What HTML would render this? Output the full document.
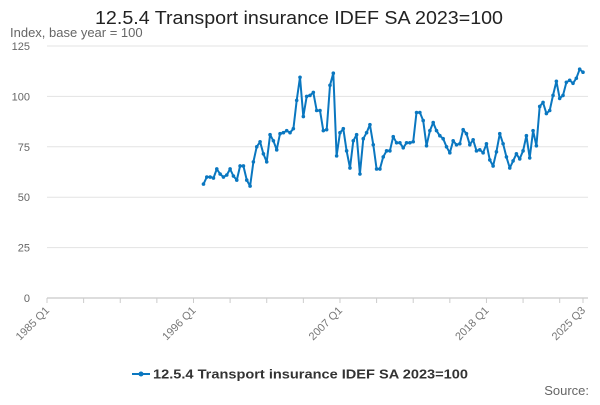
<!DOCTYPE html>
<html><head><meta charset="utf-8"><style>
body{margin:0;background:#fff;font-family:"Liberation Sans",sans-serif;}
svg text{font-family:"Liberation Sans",sans-serif;}
</style></head><body>
<svg id="c" width="600" height="400">
<text x="95" y="24" textLength="408" lengthAdjust="spacingAndGlyphs" font-size="18" fill="#222">12.5.4 Transport insurance IDEF SA 2023=100</text>
<text x="10" y="37" font-size="13" fill="#666">Index, base year = 100</text>
<g id="grid"></g><g id="xax"></g><g id="series"></g>
<g>
<line x1="132" y1="374" x2="150" y2="374" stroke="#0a77c0" stroke-width="2"/>
<circle cx="141" cy="374" r="2.5" fill="#0a77c0"/>
<text x="153" y="378.5" textLength="315" lengthAdjust="spacingAndGlyphs" font-size="13" font-weight="bold" fill="#333">12.5.4 Transport insurance IDEF SA 2023=100</text>
</g>
<text x="589" y="395" text-anchor="end" font-size="13" fill="#666">Source:</text>
</svg>
<script>
const yTicks=[0,25,50,75,100,125];
const xLabels=["1985 Q1","1996 Q1","2007 Q1","2018 Q1","2025 Q3"];
const xLabelIdx=[0,44,88,132,161];
const values=[56.5,60,60,59.5,64,61.5,60,61,64,60.5,58.5,65.5,65.5,58.5,55.5,67.5,75,77.5,71.5,67.5,81,78,73.5,81.5,82,83,82,84,98,109.5,90,100,100.5,102,93,93,83,83.5,105.5,111.5,
70.5,82,84,73,64.5,78,81,61.5,79,82,86,76,64,64,70,73,73,80,77,77,74.5,77,77,77.5,92,92,88,75.5,83,87,83,80.5,79,75,72,78,76,
76.5,83.5,81.5,76,78.5,73,73.5,72,76.5,68.5,65.5,72.5,81.5,76.5,70,64.5,68,71.5,69,73,80.5,69.5,83,75.5,95,97,91.5,93,100.5,107.5,99,100.5,107,108,106.5,109,113.5,112];
const X0=47,X1=583,NQ=161,Y0=298,YS=(298-46)/125;
const xs=i=>X0+(X1-X0)*i/NQ, ys=v=>Y0-v*YS;
const ns="http://www.w3.org/2000/svg";
function mk(t,a,p){const e=document.createElementNS(ns,t);for(const k in a)e.setAttribute(k,a[k]);p.appendChild(e);return e;}
const g=document.getElementById('grid'),xa=document.getElementById('xax'),s=document.getElementById('series');
yTicks.forEach(v=>{const l=mk('line',{x1:X0,x2:X1+5,y1:ys(v),y2:ys(v),stroke:v===0?'#bbb':'#e3e3e3','stroke-width':1},g);


const t=mk('text',{x:30,y:ys(v)+4,'text-anchor':'end','font-size':11,fill:'#666'},g);t.textContent=v;

});
for(let i=0;i<=NQ;i+=11){const l=mk('line',{x1:xs(i),x2:xs(i),y1:Y0,y2:Y0+5,stroke:'#ccc'},xa);

}
mk('line',{x1:xs(NQ),x2:xs(NQ),y1:Y0,y2:Y0+5,stroke:'#ccc'},xa);
xLabels.forEach((lb,k)=>{const x=xs(xLabelIdx[k]);const t=mk('text',{x:x+3,y:Y0+13,'text-anchor':'end','font-size':11,fill:'#777',transform:`rotate(-45 ${x+3} ${Y0+13})`},xa);t.textContent=lb;

});
const start=NQ-(values.length-1);
const pts=values.map((v,i)=>xs(start+i).toFixed(1)+','+ys(v).toFixed(1)).join(' ');
const pl=mk('polyline',{points:pts,fill:'none',stroke:'#0a77c0','stroke-width':2,'stroke-linejoin':'round'},s);


values.forEach((v,i)=>{const c=mk('circle',{cx:xs(start+i),cy:ys(v),r:1.8,fill:'#0a77c0'},s);

});
</script>
</body></html>
